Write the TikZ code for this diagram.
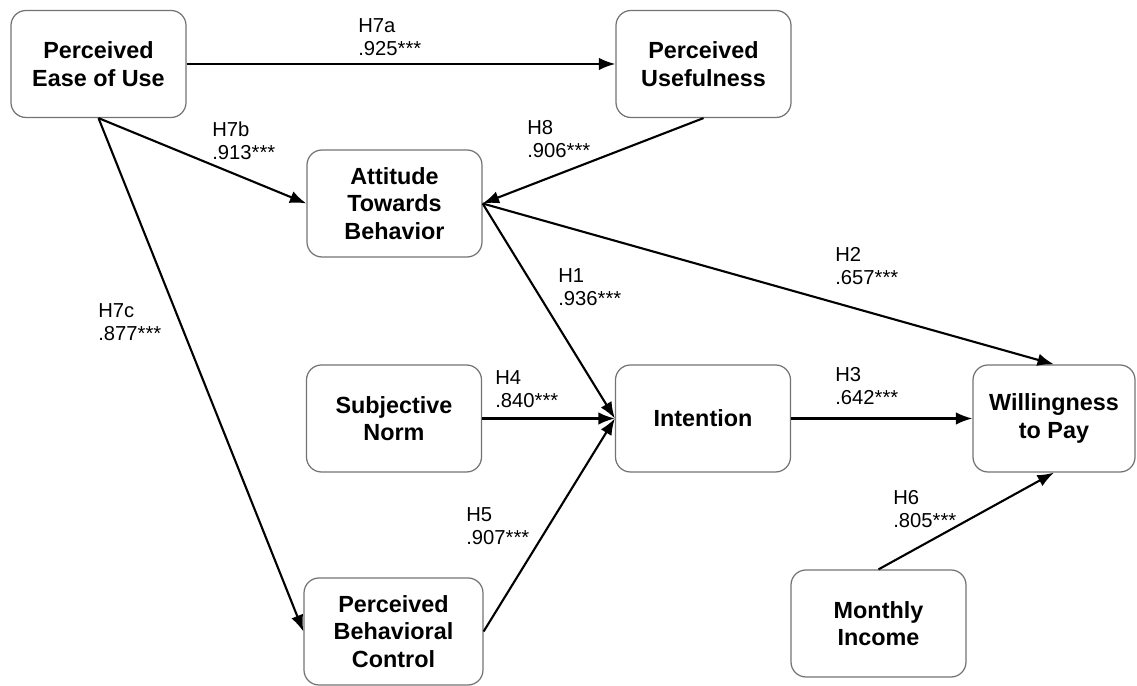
\documentclass[tikz,border=0pt]{standalone}
\usepackage{fontspec}
\setmainfont{Liberation Sans}
\usepackage{tikz}
\usetikzlibrary{arrows.meta}

\begin{document}
\begin{tikzpicture}[
        construct/.style={draw=black!55, line width=0.7pt, rounded corners=0.3cm, minimum width=3.5cm, minimum height=2.14cm, align=center, font=\bfseries\fontsize{13.3}{15.6}\selectfont},
        path/.style={line width=1.2pt, -{Latex[length=3.3mm,width=2.5mm]}},
        coef/.style={anchor=north west, inner sep=0pt, align=left, font=\fontsize{11.5}{13}\selectfont}
    ]
                \useasboundingbox (0,0) rectangle (22.74,13.72);

                \node[construct] (peou) at (1.97,12.44) {Perceived\\Ease of Use};
                \node[construct] (pu) at (14.07,12.44) {Perceived\\Usefulness};
                \node[construct] (atb) at (7.89,9.65) {Attitude\\Towards\\Behavior};
                \node[construct] (sn) at (7.88,5.35) {Subjective\\Norm};
                \node[construct] (int) at (14.06,5.35) {Intention};
                \node[construct, minimum width=3.24cm] (wtp) at (21.08,5.35) {Willingness\\to Pay};
                \node[construct, minimum width=3.58cm] (pbc) at (7.87,1.09) {Perceived\\Behavioral\\Control};
                \node[construct] (mi) at (17.57,1.25) {Monthly\\Income};

                \draw[path] (peou) -- (pu);
                \draw[path] (peou.south) -- (atb.west);
                \draw[path] (peou.south) -- (pbc.west);
                \draw[path] (pu.south) -- (atb.east);
                \draw[path] (atb.east) -- (int.west);
                \draw[path] (atb.east) -- (wtp.north);
                \draw[path] (sn) -- (int);
                \draw[path] (pbc.east) -- (int.west);
                \draw[path] (int) -- (wtp);
                \draw[path] (mi.north) -- (wtp.south);

                \node[coef] (h7a) at (7.16,13.36) {H7a\\.925***};
                \node[coef] (h7b) at (4.24,11.28) {H7b\\.913***};
                \node[coef] (h8) at (10.54,11.32) {H8\\.906***};
                \node[coef] (h7c) at (1.96,7.66) {H7c\\.877***};
                \node[coef] (h1) at (11.16,8.36) {H1\\.936***};
                \node[coef] (h2) at (16.70,8.78) {H2\\.657***};
                \node[coef] (h4) at (9.90,6.32) {H4\\.840***};
                \node[coef] (h3) at (16.70,6.38) {H3\\.642***};
                \node[coef] (h5) at (9.32,3.58) {H5\\.907***};
                \node[coef] (h6) at (17.86,3.92) {H6\\.805***};
            \end{tikzpicture}
\end{document}
